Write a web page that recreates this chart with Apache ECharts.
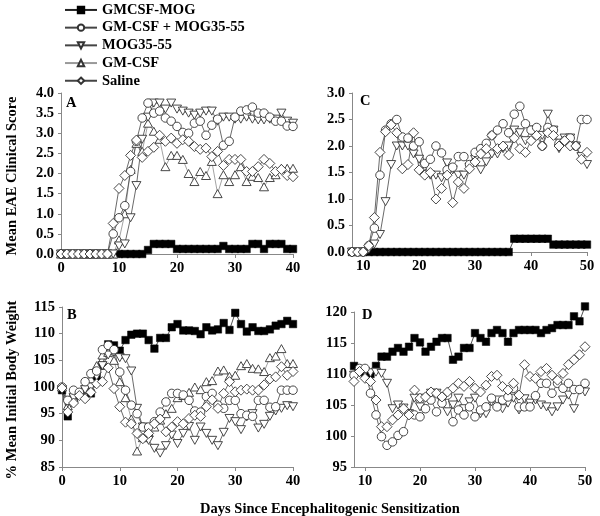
<!DOCTYPE html>
<html>
<head>
<meta charset="utf-8">
<script src="https://cdn.jsdelivr.net/npm/echarts@6/dist/echarts.min.js"></script>
<style>html,body{margin:0;padding:0;background:#fff}#c{width:600px;height:516px}</style>
</head>
<body>
<div id="c"></div>
<script>
const FONT = 'Liberation Serif, Times New Roman, serif';

const seriesNames = ['GMCSF-MOG', 'GM-CSF + MOG35-55', 'MOG35-55', 'GM-CSF', 'Saline'];

const daysAB = [0,1,2,3,4,5,6,7,8,9,10,11,12,13,14,15,16,17,18,19,20,21,22,23,24,25,26,27,28,29,30,31,32,33,34,35,36,37,38,39,40];
const daysCD = [8,9,10,11,12,13,14,15,16,17,18,19,20,21,22,23,24,25,26,27,28,29,30,31,32,33,34,35,36,37,38,39,40,41,42,43,44,45,46,47,48,49,50];

const ticksAB = [0,10,20,30,40];
const ticksCD = [10,20,30,40,50];

// Panel A: Mean EAE clinical score (days 0-40)
const A_gmcsfMog = [0,0,0,0,0,0,0,0,0,0,0,0,0,0,0,0.1,0.25,0.25,0.25,0.25,0.125,0.125,0.125,0.125,0.125,0.125,0.125,0.125,0.2,0.125,0.125,0.125,0.125,0.25,0.25,0.125,0.25,0.25,0.25,0.125,0.125];
const A_gmcsfPlusMog = [0,0,0,0,0,0,0,0,0,0.5,0.9,1.2,2.05,2.8,3.38,3.75,3.5,3.55,3.38,3.3,3.17,3.02,3.0,3.25,3.3,2.95,3.2,3.35,2.7,2.8,3.4,3.55,3.58,3.65,3.5,3.5,3.4,3.3,3.3,3.18,3.17];
const A_mog = [0,0,0,0,0,0,0,0,0,0,0.2,0.25,0.9,1.7,2.85,3.4,3.75,3.75,3.6,3.75,3.6,3.55,3.5,3.45,3.5,3.55,3.55,3.3,3.4,3.4,3.35,3.35,3.4,3.35,3.33,3.33,3.35,3.35,3.5,3.3,3.25];
const A_gmcsf = [0,0,0,0,0,0,0,0,0,0,0.35,1.0,2.1,2.75,2.55,3.25,3.05,2.85,2.17,2.45,2.45,2.35,2.0,1.8,2.05,1.95,2.3,1.5,1.97,1.8,1.97,2.17,1.8,1.93,1.9,1.67,1.9,1.97,2.13,2.13,2.13];
const A_saline = [0,0,0,0,0,0,0,0,0,0.76,1.63,1.95,2.45,2.83,2.4,2.55,2.65,2.95,2.8,2.88,2.75,2.84,2.8,2.67,2.6,2.63,2.42,2.55,2.2,2.35,2.35,2.35,2.05,2.05,2.17,2.35,2.25,2.05,2.1,1.95,1.92];

// Panel B: % mean initial body weight (days 0-40)
const B_gmcsfMog = [99.4,94.5,98,98.5,99.5,98.8,102,104,108,107.8,106.8,108.8,109.8,110,110,108.8,107.2,109.2,109.2,111.2,111.8,110.6,110.6,110.5,109.9,111.2,110.6,110.8,112,110.7,113.9,111.8,110.4,111.2,110.5,110.5,110.8,111.5,111.8,112.4,111.8];
const B_gmcsfPlusMog = [100,97.5,99.4,99,101,102.5,103,107,107.8,107,102.8,99.4,96.6,95,92.5,92.5,93.5,95.3,97.2,98.8,98.8,98.5,97.5,95.5,95.3,98.2,98.8,96.6,96,97.5,97.5,95,94.7,94.5,97.5,97.5,96.2,96.3,99.4,99.4,99.4];
const B_mog = [99.5,97,98,98.5,99.5,100,102,104,106,106.5,105.5,105.3,103,96,92.5,90,88.5,87.6,89,91,89.4,91.3,92.6,90,92.5,91.3,90,89,91.5,94.1,93.5,92,94.4,95,92.3,93,94.5,95.5,96,96.5,96.3];
const B_gmcsf = [100,96.5,98,99,100,101.5,104,106,106.5,105,101,98,94,88,90.5,91.5,92.5,93.8,95,96,98,98.4,99,100,99.5,101,101.2,103,103.2,102,102.2,104,104.4,103.5,103.4,102.9,105.5,105.8,107.2,104.4,104.4];
const B_saline = [99.8,95.3,97,98.4,97.8,99,100.6,101,103.6,99.7,96.3,93.4,93.1,91.3,90.3,91.3,93.1,94,91.6,92.5,93.5,93.1,94.1,94.7,94.5,96.3,97.6,96,98.8,101,99.1,99.4,99.6,99.4,99.4,100.4,101.5,101.9,103.8,102.2,102.9];

// Panel C: Mean EAE clinical score (days 8-50)
const C_gmcsfMog = [0,0,0,0,0,0,0,0,0,0,0,0,0,0,0,0,0,0,0,0,0,0,0,0,0,0,0,0,0,0.25,0.25,0.25,0.25,0.25,0.25,0.25,0.14,0.14,0.14,0.14,0.14,0.14,0.14];
const C_gmcsfPlusMog = [0,0,0,0.12,0.45,1.45,2.3,2.42,2.5,2.17,2.15,2.0,2.08,1.67,1.75,2.0,1.87,1.55,1.6,1.8,1.8,1.65,1.88,1.95,2.05,2.2,2.3,2.42,2.25,2.6,2.75,2.42,2.3,2.35,2.0,2.35,2.3,2.05,2.1,2.15,2.0,2.5,2.5];
const C_mog = [0,0,0,0.05,0.15,0.33,0.95,1.65,2.0,2.0,2.0,1.85,1.75,1.6,1.45,1.45,1.4,1.68,1.55,1.45,1.45,1.6,1.75,1.55,1.7,1.85,1.85,1.95,2.0,2.3,2.25,2.1,2.3,2.3,2.2,2.6,2.3,1.95,2.15,2.15,2.0,1.8,1.65];
const C_saline = [0,0,0,0.12,0.65,1.88,2.27,2.4,2.25,1.57,1.65,2.25,1.55,1.45,1.5,1.0,1.2,1.45,0.93,1.32,1.2,1.57,1.7,1.85,1.95,2.2,1.95,2.0,1.83,2.15,1.95,1.88,2.1,2.2,2.0,2.25,2.2,2.0,2.1,2.0,2.0,1.75,1.88];

// Panel D: % mean initial body weight (days 8-50)
const D_gmcsfMog = [111.3,110.5,110,110,111.3,112.8,112.8,113.6,114.2,113.6,114.4,115.8,115.1,113.6,114.4,115.2,115.8,115.8,112.3,112.8,114.2,114.2,116.6,115.8,115.2,116.6,117.1,116.6,115.2,116.6,117.1,117.1,117.1,117.1,116.6,117.1,117.4,117.9,117.9,117.9,119.3,118.5,120.9];
const D_gmcsfPlusMog = [109.8,110.9,110.9,106.9,103.4,99.9,98.5,99.05,100.1,100.7,103.6,103.4,103.1,104.4,105.8,103.9,105.3,106.6,102.3,104.2,103.4,104.7,103.1,104.2,104.7,106.1,104.7,105.8,106.3,107.7,104.7,104.7,104.7,106.5,108.5,108.5,106.9,108.5,107.7,108.5,107.5,107.5,108.5];
const D_mog = [109.8,110.2,110.4,110.2,110.3,110.1,108.5,104.4,105,104.5,103.6,106.1,104.7,106.1,106.9,106.9,105.5,103.9,105,106.1,104.4,105.5,106.1,103.6,103.6,105.5,105.8,104.4,105.3,106.1,104.2,106,105.3,105.8,105,104.7,103.9,104.7,105.8,106.6,104.4,107.4,107.1];
const D_saline = [108.8,110.4,109.3,108.8,105.8,101.5,101.5,102.6,103.4,104.4,103.4,107.4,106.1,106.3,107.1,106.9,106.3,107.1,107.7,108.5,108,108.8,107.7,107.1,108.2,109.6,109.8,108,107.4,108.5,106.6,111.5,109.6,109.3,110.4,110.9,109.8,109,110.1,111.5,112.3,113.1,114.4];

const style = {
  'GMCSF-MOG': {symbol:'rect', symbolSize:7.5, itemStyle:{color:'#000', borderColor:'#000', borderWidth:0.5}, lineStyle:{color:'#222', width:0.8}},
  'GM-CSF + MOG35-55': {symbol:'circle', symbolSize:8.5, itemStyle:{color:'#fff', borderColor:'#333', borderWidth:0.9}, lineStyle:{color:'#444', width:0.8}},
  'MOG35-55': {symbol:'triangle', symbolRotate:180, symbolSize:[9,8], itemStyle:{color:'#fff', borderColor:'#333', borderWidth:0.9}, lineStyle:{color:'#444', width:0.8}},
  'GM-CSF': {symbol:'triangle', symbolSize:[9,8], itemStyle:{color:'#fff', borderColor:'#333', borderWidth:0.9}, lineStyle:{color:'#999', width:0.9}},
  'Saline': {symbol:'diamond', symbolSize:10, itemStyle:{color:'#fff', borderColor:'#333', borderWidth:0.9}, lineStyle:{color:'#444', width:0.8}}
};

function mk(name, idx, days, vals) {
  const s = style[name];
  return Object.assign({
    type:'line', name: name, xAxisIndex: idx, yAxisIndex: idx,
    data: days.map((d, i) => [d, vals[i]]),
    showAllSymbol: true, clip: false, animation: false
  }, JSON.parse(JSON.stringify(s)));
}

const labelStyle = {color:'#000', fontFamily: FONT, fontWeight:'bold', fontSize:14.5};
const axisLineStyle = {lineStyle:{color:'#888', width:1}};

function xAxis(idx, min, max, custom) {
  const ax = {
    type:'value', gridIndex: idx, min: min, max: max,
    axisLine: Object.assign({show:true, onZero:false}, axisLineStyle),
    axisTick: {show:true, length:4, lineStyle:{color:'#888'}},
    splitLine: {show:false},
    axisLabel: Object.assign({margin:7}, labelStyle)
  };
  if (custom) {
    ax.axisLabel.customValues = custom;
    ax.axisTick.customValues = custom;
  } else {
    ax.interval = 10;
  }
  return ax;
}
function yAxis(idx, min, max, interval, dec) {
  return {
    type:'value', gridIndex: idx, min: min, max: max, interval: interval,
    axisLine: Object.assign({show:true}, axisLineStyle),
    axisTick: {show:true, length:3, lineStyle:{color:'#888'}},
    splitLine: {show:false},
    axisLabel: Object.assign({margin:7, formatter: v => v.toFixed(dec)}, labelStyle)
  };
}

const chart = echarts.init(document.getElementById('c'), null, {renderer:'canvas'});
const option = {
  animation: false,
  backgroundColor: '#fff',
  legend: {
    data: seriesNames,
    orient: 'vertical', left: 59, top: -3,
    itemWidth: 32, itemHeight: 8, itemGap: 1.8,
    textStyle: {color:'#000', fontFamily: FONT, fontWeight:'bold', fontSize:14.5, lineHeight:15.9},
    selectedMode: false
  },
  grid: [
    {left:61, top:93, width:232, height:161},
    {left:62, top:307, width:231, height:160},
    {left:352, top:93, width:235, height:159},
    {left:354, top:312, width:231, height:155}
  ],
  xAxis: [
    xAxis(0, 0, 40, null),
    xAxis(1, 0, 40, null),
    xAxis(2, 8, 50, ticksCD),
    xAxis(3, 8, 50, ticksCD)
  ],
  yAxis: [
    yAxis(0, 0, 4, 0.5, 1),
    yAxis(1, 85, 115, 5, 0),
    yAxis(2, 0, 3, 0.5, 1),
    yAxis(3, 95, 120, 5, 0)
  ],
  graphic: [
    {type:'text', left:66, top:96, style:{text:'A', font:'bold 14.5px '+FONT, fill:'#000'}},
    {type:'text', left:67, top:308, style:{text:'B', font:'bold 14.5px '+FONT, fill:'#000'}},
    {type:'text', left:360, top:94, style:{text:'C', font:'bold 14.5px '+FONT, fill:'#000'}},
    {type:'text', left:362, top:308, style:{text:'D', font:'bold 14.5px '+FONT, fill:'#000'}},
    {type:'text', x:12, y:176, rotation:Math.PI/2, style:{text:'Mean EAE Clinical Score', font:'bold 14.5px '+FONT, fill:'#000', align:'center', verticalAlign:'middle'}},
    {type:'text', x:12, y:390, rotation:Math.PI/2, style:{text:'% Mean Initial Body Weight', font:'bold 14.5px '+FONT, fill:'#000', align:'center', verticalAlign:'middle'}},
    {type:'text', x:330, y:509, style:{text:'Days Since Encephalitogenic Sensitization', font:'bold 14.5px '+FONT, fill:'#000', align:'center', verticalAlign:'middle'}}
  ],
  series: [
    mk('GMCSF-MOG', 0, daysAB, A_gmcsfMog),
    mk('GM-CSF', 0, daysAB, A_gmcsf),
    mk('MOG35-55', 0, daysAB, A_mog),
    mk('GM-CSF + MOG35-55', 0, daysAB, A_gmcsfPlusMog),
    mk('Saline', 0, daysAB, A_saline),

    mk('GMCSF-MOG', 1, daysAB, B_gmcsfMog),
    mk('GM-CSF', 1, daysAB, B_gmcsf),
    mk('MOG35-55', 1, daysAB, B_mog),
    mk('GM-CSF + MOG35-55', 1, daysAB, B_gmcsfPlusMog),
    mk('Saline', 1, daysAB, B_saline),

    mk('GMCSF-MOG', 2, daysCD, C_gmcsfMog),
    mk('MOG35-55', 2, daysCD, C_mog),
    mk('GM-CSF + MOG35-55', 2, daysCD, C_gmcsfPlusMog),
    mk('Saline', 2, daysCD, C_saline),

    mk('GMCSF-MOG', 3, daysCD, D_gmcsfMog),
    mk('MOG35-55', 3, daysCD, D_mog),
    mk('GM-CSF + MOG35-55', 3, daysCD, D_gmcsfPlusMog),
    mk('Saline', 3, daysCD, D_saline)
  ]
};
chart.setOption(option);
</script>
</body>
</html>
